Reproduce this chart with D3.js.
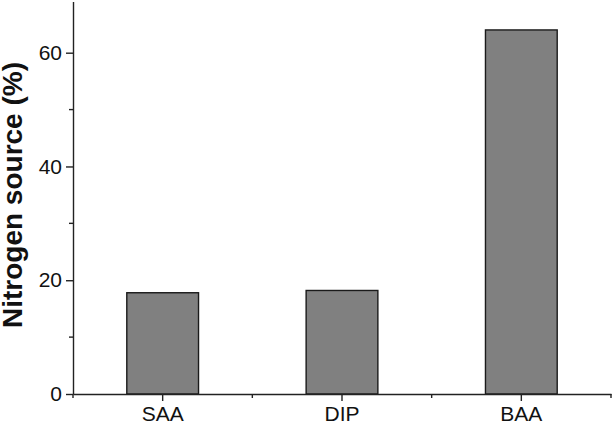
<!DOCTYPE html>
<html>
<head>
<meta charset="utf-8">
<script src="https://cdn.jsdelivr.net/npm/d3@7"></script>
<style>
	body{margin:0;background:#fff;}
	svg text{font-family:"Liberation Sans", Arial, sans-serif;fill:#111;}
	.axis path, .axis line{stroke:#222;stroke-width:1.4;}
</style>
</head>
<body>
<div id="chart"></div>
<script>
var categories=["SAA","DIP","BAA"];
var values=[17.8,18.2,64];
var yTicks=[0,20,40,60];
var yMinorTicks=[10,30,50];
var yLabel="Nitrogen source (%)";

var pWidth=612, pHeight=429;
var plotLeft=73, plotRight=611, plotBase=394, plotTop=1.5;
var barColor="#808080";

var svg=d3.select("#chart").append("svg")
	.attr("width",pWidth).attr("height",pHeight);

var x=d3.scaleBand().domain(categories).range([plotLeft,plotRight]).padding(0);
var y=d3.scaleLinear().domain([0,69]).range([plotBase,plotTop]);
var barW=x.bandwidth()*0.4;

// bars
svg.selectAll("rect.bar").data(values).enter().append("rect")
	.attr("class","bar")
	.attr("x",function(d,i){return x(categories[i])+x.bandwidth()/2-barW/2;})
	.attr("y",function(d){return y(d);})
	.attr("width",barW)
	.attr("height",function(d){return plotBase-y(d);})
	.style("fill",barColor).style("stroke","#1a1a1a").style("stroke-width",1.4);

// y axis
var yAxis=svg.append("g").attr("class","axis")
	.attr("transform","translate("+plotLeft+",0)")
	.call(d3.axisLeft(y).tickValues(yTicks).tickSize(7).tickSizeOuter(0).tickPadding(4));
yAxis.selectAll("text").style("font-size","21px");
yAxis.selectAll("line.minor").data(yMinorTicks).enter().append("line")
	.attr("class","minor")
	.attr("x1",-4).attr("x2",0)
	.attr("y1",function(d){return y(d);}).attr("y2",function(d){return y(d);});

// x axis
var xAxis=svg.append("g").attr("class","axis")
	.attr("transform","translate(0,"+plotBase+")")
	.call(d3.axisBottom(x).tickSize(7).tickSizeOuter(0).tickPadding(5));
xAxis.selectAll("text").style("font-size","21px");
var bounds=[plotLeft].concat(categories.map(function(c){return x(c)+x.bandwidth();}));
xAxis.selectAll("line.minor").data(bounds).enter().append("line")
	.attr("class","minor")
	.attr("x1",function(d){return d;}).attr("x2",function(d){return d;})
	.attr("y1",0).attr("y2",4);

// y label
svg.append("text")
	.attr("transform","translate(22,195) rotate(-90)")
	.attr("text-anchor","middle")
	.style("font-size","28px").style("font-weight","bold")
	.text(yLabel);
</script>
</body>
</html>
